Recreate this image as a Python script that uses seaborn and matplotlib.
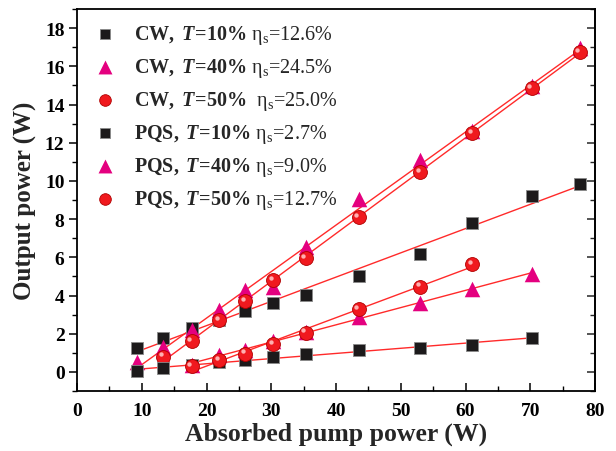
import numpy as np
import pandas as pd
import matplotlib
matplotlib.use("Agg")
import matplotlib.pyplot as plt
import seaborn as sns
from matplotlib.ticker import MultipleLocator

# ---------------- data ----------------
x_cw10 = [9.3, 13.3, 17.7, 22.0, 26.0, 30.3, 35.3, 43.5, 53.0, 61.0, 70.2, 77.6]
y_cw10 = [1.25, 1.78, 2.3, 2.7, 3.2, 3.6, 4.05, 5.0, 6.2, 7.8, 9.2, 9.85]

x_cw40 = [9.3, 13.3, 17.7, 22.0, 26.0, 30.3, 35.3, 43.5, 53.0, 61.0, 70.2, 77.6]
y_cw40 = [0.5, 1.3, 2.2, 3.25, 4.3, 4.45, 6.55, 9.05, 11.1, 12.6, 14.95, 16.95]

x_cw50 = [13.3, 17.7, 22.0, 26.0, 30.3, 35.3, 43.5, 53.0, 61.0, 70.2, 77.6]
y_cw50 = [0.8, 1.6, 2.7, 3.7, 4.8, 5.95, 8.1, 10.45, 12.5, 14.85, 16.75]

x_pqs10 = [9.3, 13.3, 17.7, 22.0, 26.0, 30.3, 35.3, 43.5, 53.0, 61.0, 70.2]
y_pqs10 = [0.05, 0.2, 0.35, 0.5, 0.6, 0.8, 0.95, 1.15, 1.25, 1.42, 1.8]

x_pqs40 = [17.7, 22.0, 26.0, 30.3, 35.3, 43.5, 53.0, 61.0, 70.2]
y_pqs40 = [0.35, 0.9, 1.15, 1.6, 2.1, 2.9, 3.6, 4.35, 5.15]

x_pqs50 = [17.7, 22.0, 26.0, 30.3, 35.3, 43.5, 53.0, 61.0]
y_pqs50 = [0.3, 0.6, 0.95, 1.45, 2.05, 3.3, 4.47, 5.65]

labels = [
    r"$\mathbf{CW,}\ \mathbfit{T}\!\mathbf{=}\!\mathbf{10\%}$ η$_{\mathrm{s}}$=12.6%",
    r"$\mathbf{CW,}\ \mathbfit{T}\!\mathbf{=}\!\mathbf{40\%}$ η$_{\mathrm{s}}$=24.5%",
    r"$\mathbf{CW,}\ \mathbfit{T}\!\mathbf{=}\!\mathbf{50\%}$  η$_{\mathrm{s}}$=25.0%",
    r"$\mathbf{PQS,}\ \mathbfit{T}\!\mathbf{=}\!\mathbf{10\%}$ η$_{\mathrm{s}}$=2.7%",
    r"$\mathbf{PQS,}\ \mathbfit{T}\!\mathbf{=}\!\mathbf{40\%}$ η$_{\mathrm{s}}$=9.0%",
    r"$\mathbf{PQS,}\ \mathbfit{T}\!\mathbf{=}\!\mathbf{50\%}$ η$_{\mathrm{s}}$=12.7%",
]

x_label = "Absorbed pump power (W)"
y_label = "Output power (W)"

# ---------------- style ----------------
sns.set_theme(style="ticks")
plt.rcParams["font.family"] = ["Liberation Serif", "DejaVu Serif"]
plt.rcParams["mathtext.fontset"] = "custom"
plt.rcParams["mathtext.rm"] = "Liberation Serif"
plt.rcParams["mathtext.it"] = "Liberation Serif:italic"
plt.rcParams["mathtext.bf"] = "Liberation Serif:bold"
plt.rcParams["mathtext.bfit"] = "Liberation Serif:italic:bold"

fig = plt.figure(figsize=(6.16, 4.52), dpi=100)
ax = fig.add_axes([0.125, 0.1327, 0.841, 0.8451])

BLACK = "#1c1a1b"
MAGENTA = "#e4007f"
RED = "#f0191e"
LINE = "#ff2a2a"

series = [
    (x_cw10, y_cw10, "s", BLACK, 80),
    (x_cw40, y_cw40, "^", MAGENTA, 125),
    (x_cw50, y_cw50, "o", RED, 100),
    (x_pqs10, y_pqs10, "s", BLACK, 80),
    (x_pqs40, y_pqs40, "^", MAGENTA, 125),
    (x_pqs50, y_pqs50, "o", RED, 100),
]
legend_sizes = {"s": 60, "^": 100, "o": 70}

# fit lines
for xs, ys, m, c, s in series:
    sns.regplot(x=np.array(xs), y=np.array(ys), ax=ax, scatter=False, ci=None,
                truncate=True, line_kws=dict(color=LINE, lw=1.0, zorder=2))

# markers
for (xs, ys, m, c, s), lab in zip(series, labels):
    ec = "#8a8a8a" if m == "s" else ("#b00000" if m == "o" else c)
    sns.scatterplot(x=xs, y=ys, ax=ax, marker=m, color=c, s=s, edgecolor=ec,
                    linewidth=0.6 if m != "^" else 0, label=lab, zorder=3)
    if m == "o":
        # small specular highlight for the shaded spheres
        ax.scatter(np.array(xs) - 0.35, np.array(ys) + 0.12, s=10, color="#ffb0b0",
                   linewidth=0, zorder=4)

ax.set_xlim(0, 80)
ax.set_ylim(-1, 19)
ax.xaxis.set_major_locator(MultipleLocator(10))
ax.xaxis.set_minor_locator(MultipleLocator(5))
ax.yaxis.set_minor_locator(MultipleLocator(1))
ax.set_yticks(np.arange(0, 19, 2))

for sp in ax.spines.values():
    sp.set_linewidth(1.3)
    sp.set_color("black")
    sp.set_visible(True)

ax.tick_params(axis="x", which="both", direction="in", top=False, bottom=True,
               labelsize=14, pad=8, colors="black")
ax.tick_params(axis="x", which="major", length=6, width=1.1)
ax.tick_params(axis="x", which="minor", length=3.5, width=1.0)
ax.tick_params(axis="y", which="both", direction="out", left=True, right=False,
               labelsize=14, pad=3, colors="black")
ax.tick_params(axis="y", which="major", length=6, width=1.1)
ax.tick_params(axis="y", which="minor", length=3.5, width=1.0)
for t in ax.get_xticklabels() + ax.get_yticklabels():
    t.set_fontweight("bold")

# right-side inward ticks
ax2 = ax.secondary_yaxis("right")
ax2.yaxis.set_major_locator(MultipleLocator(2))
ax2.yaxis.set_minor_locator(MultipleLocator(1))
ax2.tick_params(which="both", direction="in", labelright=False)
ax2.tick_params(which="major", length=6, width=1.1)
ax2.tick_params(which="minor", length=3.5, width=1.0)
ax2.spines["right"].set_linewidth(1.3)

ax.set_xlabel(x_label, fontsize=18.5, fontweight="bold", labelpad=2)
ax.set_ylabel(y_label, fontsize=18, fontweight="bold", labelpad=6)

leg = ax.legend(loc="upper left", bbox_to_anchor=(0.008, 0.995), frameon=False,
                fontsize=14.5, handletextpad=0.8, labelspacing=0.5,
                borderaxespad=0.2, handlelength=1.2)
for (xs, ys, m, c, s), h in zip(series, leg.legend_handles):
    h.set_sizes([legend_sizes[m]])

fig.savefig("out.png", dpi=100)
